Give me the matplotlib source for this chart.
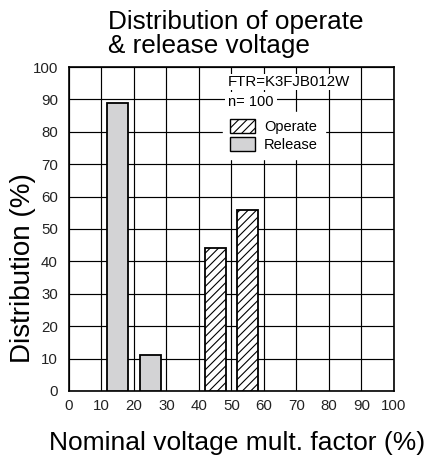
import matplotlib
matplotlib.use("Agg")
import matplotlib.pyplot as plt
from matplotlib.patches import Patch

plt.rcParams['font.family'] = ['Liberation Sans', 'DejaVu Sans']

# bar centres on the nominal voltage axis (%) and their share (%)
release_x = [15, 25]
release_pct = [89, 11]
operate_x = [45, 55]
operate_pct = [44, 56]
bar_w = 6.4

xticks = list(range(0, 101, 10))
yticks = list(range(0, 101, 10))

fig = plt.figure(figsize=(4.29, 4.58), dpi=100)
ax = fig.add_axes([0.1608, 0.1463, 0.7576, 0.7074])

ax.set_xlim(0, 100)
ax.set_ylim(0, 100)
ax.set_xticks(xticks)
ax.set_yticks(yticks)
ax.tick_params(length=0, labelsize=10.8, colors='#222222')
ax.tick_params(axis='y', pad=8)
ax.tick_params(axis='x', pad=6)
ax.grid(True, color='black', linewidth=0.85)
ax.set_axisbelow(True)
for s in ax.spines.values():
    s.set_linewidth(1.2)

plt.rcParams['hatch.linewidth'] = 0.8
ax.bar(release_x, release_pct, width=bar_w, color='#d3d3d5', edgecolor='black', linewidth=1.3, zorder=3)
ax.bar(operate_x, operate_pct, width=bar_w, color='white', edgecolor='black', hatch='////', linewidth=1.3, zorder=3)

ax.text(48.9, 95.4, "FTR=K3FJB012W", fontsize=10.8, va='center', ha='left', zorder=5,
        bbox=dict(facecolor='white', edgecolor='none', pad=1))
ax.text(49.0, 89.2, "n= 100", fontsize=10.5, va='center', ha='left', zorder=5,
        bbox=dict(facecolor='white', edgecolor='none', pad=2))

handles = [Patch(facecolor='white', edgecolor='black', hatch='////', label='Operate'),
           Patch(facecolor='#d3d3d5', edgecolor='black', label='Release')]
leg = ax.legend(handles=handles, loc='upper left', bbox_to_anchor=(0.474, 0.861),
                fontsize=10.5, frameon=True, fancybox=False, framealpha=1,
                handlelength=1.7, handleheight=1.05, handletextpad=0.6,
                labelspacing=0.2, borderpad=0.5, borderaxespad=0)
leg.get_frame().set_edgecolor('white')
leg.set_zorder(5)

fig.text(108 / 429, 1 - 28.5 / 458, "Distribution of operate",
         fontsize=18.8, ha='left', va='baseline')
fig.text(108 / 429, 1 - 53.5 / 458, "& release voltage",
         fontsize=18.8, ha='left', va='baseline')
fig.text(237 / 429, 1 - 450 / 458, "Nominal voltage mult. factor (%)",
         fontsize=19, ha='center', va='baseline')
fig.text(23 / 429, 1 - 268 / 458, "Distribution (%)",
         fontsize=20, ha='center', va='center', rotation=90)

fig.savefig("out.png", dpi=100)
